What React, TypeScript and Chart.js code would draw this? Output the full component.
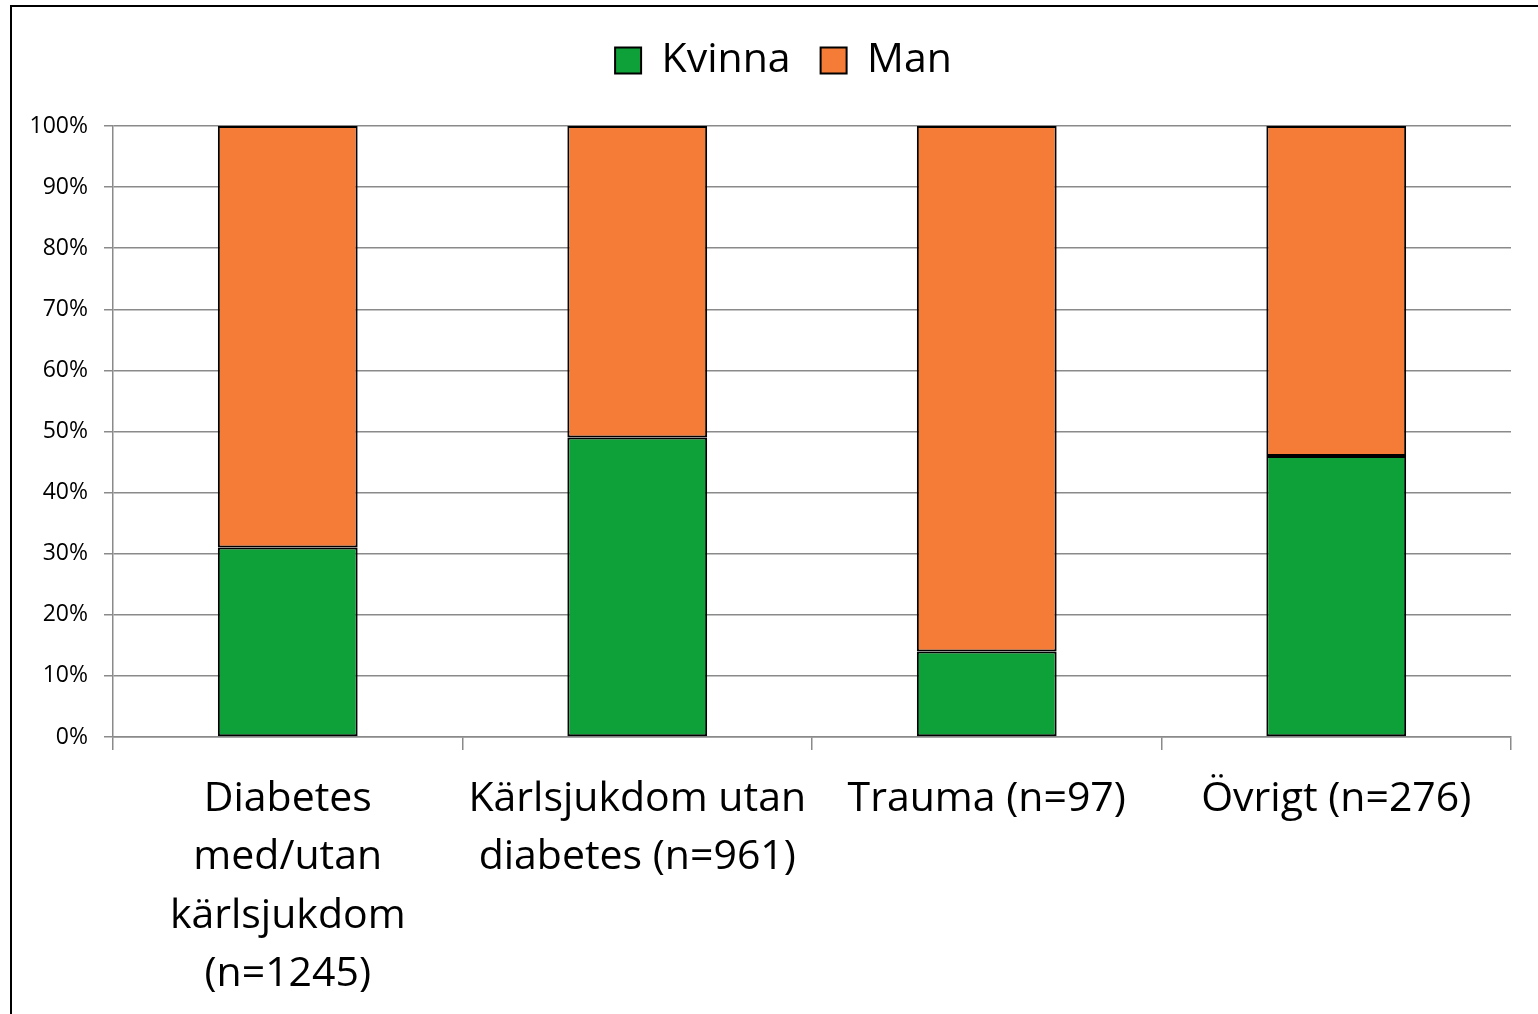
import React, { useEffect, useRef } from "react";
import { Chart, registerables } from "chart.js";

Chart.register(...registerables);

const categories: (string | string[])[] = [
  ["Diabetes", "med/utan", "kärlsjukdom", "(n=1245)"],
  ["Kärlsjukdom utan", "diabetes (n=961)"],
  "Trauma (n=97)",
  "Övrigt (n=276)",
];
const kvinnaValues = [31, 49, 14, 46];
const manValues = [69, 51, 86, 54];
const seriesNames = ["Kvinna", "Man"];
const yTickValues = [0, 10, 20, 30, 40, 50, 60, 70, 80, 90, 100];

const GREEN = "rgb(14,161,58)";
const ORANGE = "rgb(245,124,54)";
const GRID = "rgb(138,138,138)";
const FONT = "'Open Sans', 'Noto Sans', sans-serif";

const legendSpacer = {
  id: "legendSpacer",
  afterInit(chart: any) {
    const lg = chart.legend;
    if (!lg) return;
    const orig = lg.fit.bind(lg);
    lg.fit = function () {
      orig();
      this.height = 116;
    };
  },
  afterLayout(chart: any) {
    const lg = chart.legend;
    if (!lg) return;
    lg.left += 28;
    lg.right += 28;
  },
};

export default function App() {
  const ref = useRef<HTMLCanvasElement | null>(null);
  useEffect(() => {
    if (!ref.current) return;
    const chart = new Chart(ref.current, {
      type: "bar",
      data: {
        labels: categories,
        datasets: [
          {
            label: seriesNames[0],
            data: kvinnaValues,
            backgroundColor: GREEN,
            borderColor: "#000",
            borderWidth: 2,
            borderSkipped: false,
            categoryPercentage: 1,
            barPercentage: 0.4,
          },
          {
            label: seriesNames[1],
            data: manValues,
            backgroundColor: ORANGE,
            borderColor: "#000",
            borderWidth: 2,
            borderSkipped: false,
            categoryPercentage: 1,
            barPercentage: 0.4,
          },
        ],
      },
      plugins: [legendSpacer],
      options: {
        responsive: false,
        animation: false,
        devicePixelRatio: 1,
        layout: { padding: { top: 10, right: 27, bottom: 0, left: 0 } },
        plugins: {
          tooltip: { enabled: false },
          legend: {
            position: "top",
            labels: {
              boxWidth: 26,
              boxHeight: 26,
              padding: 30,
              color: "#000",
              font: { family: FONT, size: 41 },
            },
          },
        },
        scales: {
          x: {
            stacked: true,
            grid: {
              offset: true,
              drawOnChartArea: false,
              drawTicks: true,
              tickLength: 13,
              color: GRID,
              lineWidth: 1.5,
            },
            border: { color: GRID, width: 1.5 },
            ticks: {
              color: "#000",
              padding: 20,
              maxRotation: 0,
              autoSkip: false,
              font: { family: FONT, size: 41, lineHeight: 1.425 },
            },
            afterFit: (scale: any) => {
              scale.height = 1014 - 737;
            },
          },
          y: {
            stacked: true,
            min: 0,
            max: 100,
            afterBuildTicks: (scale: any) => {
              scale.ticks = yTickValues.map((v) => ({ value: v }));
            },
            grid: {
              color: GRID,
              lineWidth: 1.5,
              drawTicks: true,
              tickLength: 9,
            },
            border: { color: GRID, width: 1.5 },
            ticks: {
              color: "#000",
              padding: 16,
              callback: (v: any) => v + "%",
              font: { family: FONT, size: 23 },
            },
            afterFit: (scale: any) => {
              scale.width = 113;
            },
          },
        },
      },
    });
    return () => chart.destroy();
  }, []);

  return (
    <div
      style={{
        position: "fixed",
        left: 0,
        top: 0,
        width: 1538,
        height: 1014,
        overflow: "hidden",
        background: "#fff",
      }}
    >
      <div
        style={{
          position: "absolute",
          left: 10,
          top: 5,
          width: 1600,
          height: 1100,
          border: "2px solid #000",
          boxSizing: "border-box",
        }}
      />
      <canvas
        ref={ref}
        width={1538}
        height={1014}
        style={{ position: "absolute", left: 0, top: 0, width: 1538, height: 1014 }}
      />
    </div>
  );
}
